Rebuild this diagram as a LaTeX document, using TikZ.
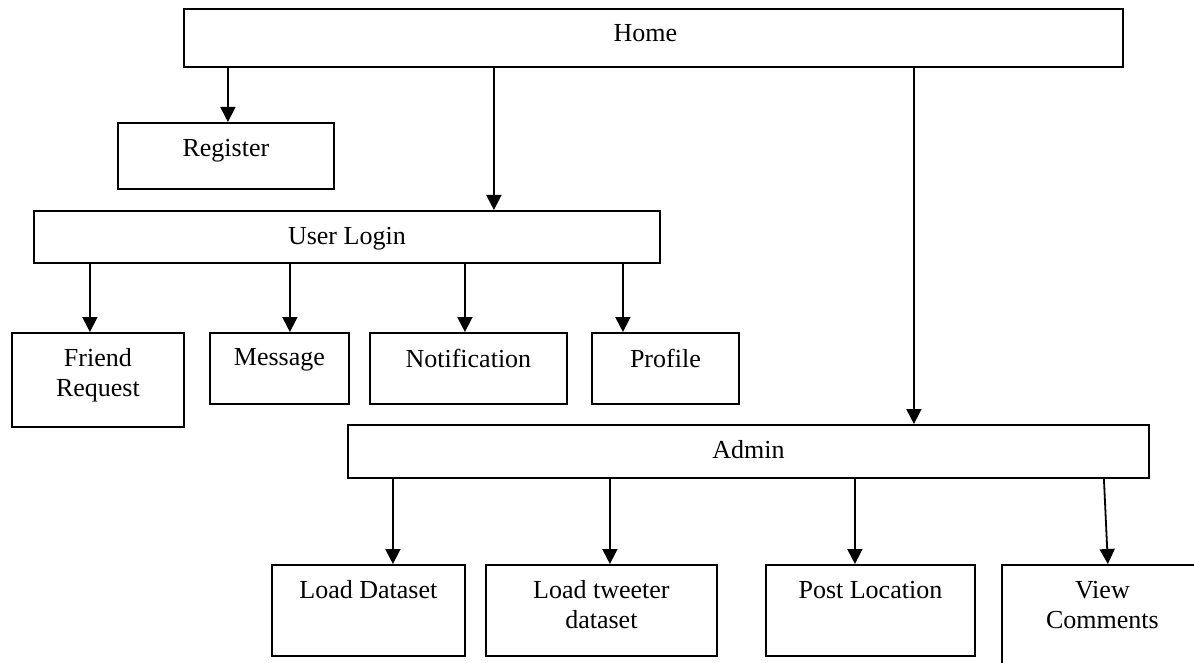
\documentclass[tikz,border=0pt]{standalone}
\usepackage{fontspec}
\setmainfont{Liberation Serif}
\usetikzlibrary{arrows.meta}

\begin{document}
\begin{tikzpicture}[x=1pt,y=-1pt,line width=1.8pt]
    % `block' is one page box, `blocktext' its caption just under the top edge.
    % `link' is used for the arrows going down the tree.
    \tikzstyle{block} = [draw,anchor=north west,inner sep=0pt]
    \tikzstyle{blocktext} = [anchor=north,yshift=-16pt,inner sep=0pt,align=center,font=\fontsize{26}{30}\selectfont]
    \tikzstyle{link} = [-{Triangle[width=15pt,length=15pt]}]
    %
    \clip (0,0) rectangle (1194,663);
    \fill[white] (0,0) rectangle (1194,663);

    % top level
    \node[block,minimum width=939pt,minimum height=58pt,label={[blocktext,xshift=-8pt]north:Home}] (home) at (183,8) {};
    \node[block,minimum width=216pt,minimum height=66pt,label={[blocktext]north:Register}] (reg) at (117,122) {};

    % user side
    \node[block,minimum width=626pt,minimum height=52pt,label={[blocktext]north:User Login}] (ul) at (33,210) {};
    \node[block,minimum width=172pt,minimum height=94pt,label={[blocktext]north:Friend\\Request}] (fr) at (11,332) {};
    \node[block,minimum width=139pt,minimum height=71pt,label={[blocktext]north:Message}] (msg) at (209,332) {};
    \node[block,minimum width=197pt,minimum height=71pt,label={[blocktext]north:Notification}] (noti) at (369,332) {};
    \node[block,minimum width=147pt,minimum height=71pt,label={[blocktext]north:Profile}] (prof) at (591,332) {};

    % admin side
    \node[block,minimum width=801pt,minimum height=53pt,label={[blocktext]north:Admin}] (adm) at (347,424) {};
    \node[block,minimum width=193pt,minimum height=91pt,label={[blocktext]north:Load Dataset}] (ld) at (271,564) {};
    \node[block,minimum width=231pt,minimum height=91pt,label={[blocktext]north:Load tweeter\\dataset}] (lt) at (485,564) {};
    \node[block,minimum width=209pt,minimum height=91pt,label={[blocktext]north:Post Location}] (pl) at (765,564) {};
    \node[block,minimum width=201pt,minimum height=120pt,label={[blocktext]north:View\\Comments}] (vc) at (1001,564) {};

    % arrows
    \draw[link] ([xshift=2pt]reg.north |- home.south) -- ([xshift=2pt]reg.north);
    \draw[link] ([xshift=147pt]ul.north |- home.south) -- ([xshift=147pt]ul.north);
    \draw[link] ([xshift=165.5pt]adm.north |- home.south) -- ([xshift=165.5pt]adm.north);

    \draw[link] ([xshift=-8pt]fr.north |- ul.south) -- ([xshift=-8pt]fr.north);
    \draw[link] ([xshift=10.5pt]msg.north |- ul.south) -- ([xshift=10.5pt]msg.north);
    \draw[link] ([xshift=-3.5pt]noti.north |- ul.south) -- ([xshift=-3.5pt]noti.north);
    \draw[link] ([xshift=-42.5pt]prof.north |- ul.south) -- ([xshift=-42.5pt]prof.north);

    \draw[link] ([xshift=24.5pt]ld.north |- adm.south) -- ([xshift=24.5pt]ld.north);
    \draw[link] ([xshift=8.5pt]lt.north |- adm.south) -- ([xshift=8.5pt]lt.north);
    \draw[link] ([xshift=-15.5pt]pl.north |- adm.south) -- ([xshift=-15.5pt]pl.north);
    \draw[link] ([xshift=1.5pt]vc.north |- adm.south) -- ([xshift=5.5pt]vc.north);
\end{tikzpicture}
\end{document}
